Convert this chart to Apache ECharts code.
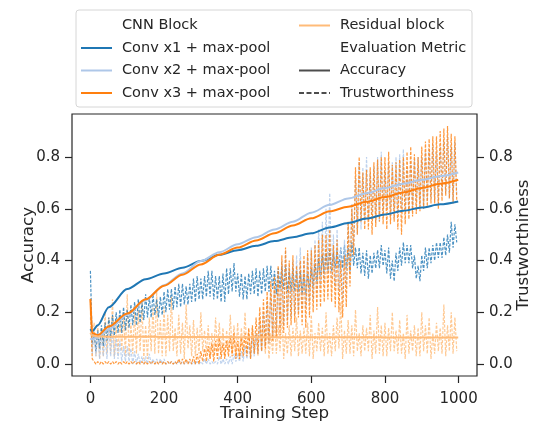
<!DOCTYPE html>
<html>
<head>
<meta charset="utf-8">
<script src="https://cdn.jsdelivr.net/npm/echarts@6.0.0/dist/echarts.min.js"></script>
<style>
  html, body { margin: 0; padding: 0; background: #fff; }
  #chart { width: 534px; height: 426px; }
</style>
</head>
<body>
<div id="chart"></div>
<script>
// accuracy curves (smooth), sampled at these steps
const accSteps = [0, 5, 20, 50, 100, 150, 200, 250, 300, 350, 400, 450, 500, 550, 600, 650, 700, 750, 800, 850, 900, 950, 999]
const conv1Acc = [0.135, 0.127, 0.15, 0.22, 0.29, 0.328, 0.35, 0.372, 0.398, 0.422, 0.44, 0.457, 0.475, 0.49, 0.505, 0.528, 0.545, 0.562, 0.578, 0.592, 0.605, 0.617, 0.628]
const conv2Acc = [0.10, 0.095, 0.105, 0.135, 0.19, 0.248, 0.305, 0.35, 0.398, 0.432, 0.463, 0.49, 0.52, 0.55, 0.585, 0.615, 0.64, 0.66, 0.68, 0.697, 0.712, 0.726, 0.74]
const conv3Acc = [0.252, 0.12, 0.112, 0.145, 0.195, 0.25, 0.303, 0.345, 0.385, 0.422, 0.45, 0.477, 0.505, 0.535, 0.563, 0.59, 0.608, 0.627, 0.645, 0.663, 0.68, 0.697, 0.712]
const residualAcc = [0.12, 0.11, 0.107, 0.106, 0.106, 0.106, 0.105, 0.105, 0.105, 0.105, 0.104, 0.104, 0.104, 0.104, 0.104, 0.104, 0.104, 0.104, 0.103, 0.103, 0.103, 0.103, 0.103]

// trustworthiness (noisy), one value every 5 steps from 0 to 995
const conv1Trust = [
  0.36, 0.08, 0.12, 0.05, 0.13, 0.06, 0.15, 0.07, 0.16, 0.09,
  0.18, 0.1, 0.19, 0.11, 0.2, 0.12, 0.21, 0.12, 0.22, 0.13,
  0.21, 0.14, 0.23, 0.15, 0.24, 0.15, 0.25, 0.16, 0.24, 0.17,
  0.27, 0.18, 0.26, 0.18, 0.27, 0.19, 0.25, 0.18, 0.26, 0.19,
  0.28, 0.2, 0.29, 0.21, 0.29, 0.21, 0.3, 0.22, 0.31, 0.22,
  0.31, 0.23, 0.3, 0.23, 0.31, 0.24, 0.33, 0.24, 0.34, 0.25,
  0.33, 0.25, 0.34, 0.26, 0.36, 0.26, 0.36, 0.25, 0.34, 0.25,
  0.34, 0.24, 0.35, 0.24, 0.37, 0.27, 0.37, 0.28, 0.39, 0.28,
  0.35, 0.26, 0.35, 0.25, 0.34, 0.25, 0.35, 0.27, 0.36, 0.27,
  0.37, 0.26, 0.36, 0.27, 0.37, 0.28, 0.38, 0.28, 0.38, 0.29,
  0.36, 0.27, 0.37, 0.29, 0.38, 0.29, 0.38, 0.28, 0.36, 0.28,
  0.37, 0.28, 0.36, 0.28, 0.36, 0.27, 0.35, 0.27, 0.35, 0.29,
  0.37, 0.3, 0.39, 0.32, 0.41, 0.34, 0.42, 0.35, 0.43, 0.36,
  0.44, 0.36, 0.43, 0.37, 0.44, 0.37, 0.45, 0.37, 0.46, 0.37,
  0.45, 0.36, 0.47, 0.38, 0.45, 0.37, 0.45, 0.35, 0.43, 0.34,
  0.44, 0.33, 0.42, 0.35, 0.43, 0.37, 0.44, 0.37, 0.46, 0.38,
  0.44, 0.35, 0.45, 0.33, 0.4, 0.32, 0.43, 0.36, 0.45, 0.38,
  0.47, 0.39, 0.46, 0.39, 0.46, 0.37, 0.42, 0.33, 0.38, 0.32,
  0.42, 0.36, 0.45, 0.37, 0.45, 0.39, 0.46, 0.4, 0.47, 0.41,
  0.47, 0.41, 0.49, 0.42, 0.5, 0.43, 0.55, 0.45, 0.54, 0.47
]
const conv2Trust = [
  0.18, 0.04, 0.14, 0.03, 0.12, 0.02, 0.11, 0.03, 0.1, 0.02,
  0.15, 0.03, 0.13, 0.02, 0.1, 0.02, 0.09, 0.01, 0.07, 0.01,
  0.07, 0.01, 0.06, 0.0, 0.05, 0.0, 0.04, 0.0, 0.03, 0.0,
  0.03, 0.0, 0.04, 0.0, 0.02, 0.0, 0.02, 0.0, 0.02, 0.0,
  0.02, 0.0, 0.01, 0.0, 0.01, 0.0, 0.01, 0.0, 0.01, 0.0,
  0.01, 0.0, 0.01, 0.0, 0.01, 0.0, 0.01, 0.0, 0.01, 0.0,
  0.01, 0.0, 0.02, 0.0, 0.02, 0.0, 0.01, 0.0, 0.01, 0.0,
  0.03, 0.0, 0.02, 0.0, 0.02, 0.0, 0.03, 0.0, 0.04, 0.01,
  0.04, 0.01, 0.05, 0.01, 0.07, 0.02, 0.08, 0.02, 0.1, 0.03,
  0.12, 0.04, 0.16, 0.05, 0.2, 0.07, 0.24, 0.08, 0.28, 0.1,
  0.3, 0.12, 0.35, 0.14, 0.4, 0.15, 0.44, 0.17, 0.38, 0.18,
  0.4, 0.19, 0.42, 0.2, 0.45, 0.21, 0.4, 0.22, 0.42, 0.24,
  0.45, 0.25, 0.48, 0.28, 0.52, 0.3, 0.55, 0.32, 0.6, 0.35,
  0.66, 0.33, 0.5, 0.3, 0.52, 0.28, 0.45, 0.25, 0.48, 0.3,
  0.55, 0.35, 0.62, 0.45, 0.72, 0.5, 0.78, 0.52, 0.76, 0.55,
  0.8, 0.56, 0.74, 0.58, 0.76, 0.55, 0.8, 0.55, 0.82, 0.58,
  0.75, 0.6, 0.78, 0.57, 0.78, 0.56, 0.8, 0.58, 0.81, 0.6,
  0.83, 0.6, 0.76, 0.58, 0.78, 0.6, 0.79, 0.62, 0.8, 0.61,
  0.8, 0.6, 0.82, 0.63, 0.83, 0.64, 0.85, 0.63, 0.82, 0.62,
  0.84, 0.65, 0.86, 0.66, 0.88, 0.64, 0.84, 0.63, 0.86, 0.65
]
const conv3Trust = [
  0.25, 0.02, 0.01, 0.0, 0.01, 0.0, 0.01, 0.0, 0.01, 0.0,
  0.01, 0.0, 0.01, 0.0, 0.01, 0.0, 0.01, 0.0, 0.01, 0.0,
  0.01, 0.0, 0.01, 0.0, 0.01, 0.0, 0.01, 0.0, 0.01, 0.0,
  0.01, 0.0, 0.01, 0.0, 0.01, 0.0, 0.01, 0.0, 0.01, 0.0,
  0.01, 0.0, 0.01, 0.0, 0.01, 0.0, 0.01, 0.0, 0.02, 0.0,
  0.02, 0.0, 0.02, 0.0, 0.02, 0.0, 0.03, 0.0, 0.04, 0.0,
  0.05, 0.01, 0.06, 0.01, 0.07, 0.02, 0.08, 0.01, 0.09, 0.02,
  0.1, 0.02, 0.08, 0.02, 0.09, 0.03, 0.11, 0.03, 0.12, 0.02,
  0.09, 0.02, 0.1, 0.03, 0.12, 0.03, 0.14, 0.02, 0.15, 0.04,
  0.18, 0.04, 0.22, 0.05, 0.25, 0.06, 0.28, 0.08, 0.32, 0.09,
  0.34, 0.1, 0.38, 0.11, 0.42, 0.12, 0.45, 0.14, 0.4, 0.15,
  0.42, 0.16, 0.38, 0.18, 0.4, 0.15, 0.42, 0.14, 0.44, 0.18,
  0.44, 0.2, 0.46, 0.21, 0.48, 0.22, 0.5, 0.24, 0.5, 0.25,
  0.52, 0.24, 0.46, 0.22, 0.48, 0.2, 0.4, 0.18, 0.42, 0.22,
  0.55, 0.3, 0.6, 0.42, 0.76, 0.5, 0.8, 0.55, 0.74, 0.52,
  0.75, 0.52, 0.76, 0.5, 0.78, 0.53, 0.79, 0.55, 0.8, 0.54,
  0.8, 0.52, 0.82, 0.54, 0.77, 0.55, 0.78, 0.52, 0.79, 0.5,
  0.8, 0.54, 0.82, 0.56, 0.84, 0.57, 0.81, 0.58, 0.8, 0.59,
  0.84, 0.6, 0.86, 0.61, 0.87, 0.62, 0.88, 0.62, 0.88, 0.6,
  0.9, 0.63, 0.91, 0.65, 0.92, 0.64, 0.89, 0.62, 0.88, 0.63
]
const residualTrust = [
  0.2, 0.05, 0.16, 0.03, 0.15, 0.02, 0.14, 0.03, 0.2, 0.04,
  0.18, 0.04, 0.25, 0.03, 0.15, 0.04, 0.18, 0.05, 0.2, 0.03,
  0.27, 0.03, 0.16, 0.04, 0.2, 0.04, 0.21, 0.05, 0.24, 0.02,
  0.15, 0.02, 0.18, 0.05, 0.22, 0.04, 0.28, 0.04, 0.17, 0.03,
  0.22, 0.03, 0.19, 0.05, 0.26, 0.05, 0.14, 0.03, 0.19, 0.04,
  0.16, 0.02, 0.23, 0.06, 0.15, 0.03, 0.17, 0.03, 0.14, 0.04,
  0.2, 0.05, 0.13, 0.04, 0.15, 0.02, 0.12, 0.04, 0.18, 0.05,
  0.16, 0.04, 0.14, 0.03, 0.13, 0.05, 0.19, 0.04, 0.15, 0.03,
  0.16, 0.02, 0.14, 0.05, 0.2, 0.04, 0.13, 0.03, 0.14, 0.04,
  0.12, 0.03, 0.18, 0.05, 0.15, 0.04, 0.15, 0.02, 0.12, 0.04,
  0.17, 0.04, 0.15, 0.05, 0.2, 0.02, 0.12, 0.04, 0.15, 0.03,
  0.14, 0.05, 0.18, 0.03, 0.13, 0.04, 0.14, 0.04, 0.16, 0.03,
  0.19, 0.02, 0.12, 0.05, 0.16, 0.05, 0.14, 0.03, 0.2, 0.04,
  0.12, 0.03, 0.15, 0.05, 0.18, 0.06, 0.24, 0.02, 0.13, 0.04,
  0.17, 0.04, 0.15, 0.03, 0.21, 0.05, 0.12, 0.03, 0.15, 0.05,
  0.14, 0.05, 0.19, 0.02, 0.13, 0.04, 0.22, 0.04, 0.15, 0.03,
  0.16, 0.03, 0.14, 0.05, 0.2, 0.05, 0.13, 0.04, 0.17, 0.04,
  0.12, 0.02, 0.19, 0.04, 0.13, 0.05, 0.15, 0.03, 0.14, 0.03,
  0.2, 0.05, 0.15, 0.04, 0.18, 0.02, 0.12, 0.04, 0.16, 0.05,
  0.14, 0.04, 0.23, 0.03, 0.15, 0.05, 0.2, 0.04, 0.18, 0.05
]
const trustSteps = conv1Trust.map((_, i) => i * 5)

const blockNames = ['Conv x1 + max-pool', 'Conv x2 + max-pool', 'Conv x3 + max-pool', 'Residual block']
const blockColors = ['#1f77b4', '#aec7e8', '#ff7f0e', '#ffbb78']
const accData = [conv1Acc, conv2Acc, conv3Acc, residualAcc]
const trustData = [conv1Trust, conv2Trust, conv3Trust, residualTrust]
const tickValues = [0, 0.2, 0.4, 0.6, 0.8]
const stepTicks = [0, 200, 400, 600, 800, 1000]

const textColor = '#262626'
const font = 'DejaVu Sans'

const chart = echarts.init(document.getElementById('chart'))

const pairs = (xs, ys) => ys.map((v, i) => [xs[i], v])

const series = []
// trustworthiness first so the accuracy curves sit on top
;[3, 0, 1, 2].forEach(i => {
  series.push({
    name: blockNames[i] + ' trust',
    type: 'line',
    yAxisIndex: 1,
    data: pairs(trustSteps, trustData[i]),
    symbol: 'none',
    lineStyle: { color: blockColors[i], width: 1.2, type: [3, 1.5], opacity: 0.8 },
    z: 2
  })
})
blockNames.forEach((name, i) => {
  series.push({
    name: name,
    type: 'line',
    yAxisIndex: 0,
    data: pairs(accSteps, accData[i]),
    symbol: 'none',
    smooth: 0.3,
    smoothMonotone: 'x',
    color: blockColors[i],
    lineStyle: { color: blockColors[i], width: 2 },
    z: 3
  })
})
// legend-only entries
series.push(
  { name: 'CNN Block', type: 'line', data: [], symbol: 'none' },
  { name: 'Evaluation Metric', type: 'line', data: [], symbol: 'none' },
  { name: 'Accuracy', type: 'line', data: [], symbol: 'none', color: '#4d4d4d', lineStyle: { color: '#4d4d4d', width: 2 } },
  { name: 'Trustworthiness', type: 'line', data: [], symbol: 'none', color: '#4d4d4d', lineStyle: { color: '#4d4d4d', width: 1.6, type: [5, 2.5] } }
)

const hidden = name => ({ name: name, itemStyle: { opacity: 0 }, lineStyle: { opacity: 0 } })

const legendBase = {
  orient: 'vertical',
  top: 18,
  padding: 0,
  itemWidth: 31,
  itemHeight: 14,
  itemGap: 7.5,
  selectedMode: false,
  itemStyle: { opacity: 0 },
  textStyle: { color: textColor, fontFamily: font, fontSize: 14.5, padding: [0, 0, 0, 5] }
}

const yAxisBase = {
  type: 'value',
  min: -0.046,
  max: 0.966,
  nameLocation: 'middle',
  nameRotate: 90,
  nameMoveOverlap: false,
  nameTextStyle: { color: textColor, fontFamily: font, fontSize: 16.7 },
  splitLine: { show: false },
  axisLine: { show: false, onZero: false },
  axisTick: { show: true, inside: false, length: 7, lineStyle: { color: textColor, width: 1.2 }, customValues: tickValues },
  axisLabel: { color: textColor, fontFamily: font, fontSize: 15, margin: 12, customValues: tickValues, formatter: v => v.toFixed(1) }
}

const option = {
  animation: false,
  backgroundColor: '#fff',
  grid: {
    left: 72, right: 57, top: 114, bottom: 50,
    containLabel: false, outerBoundsMode: 'none',
    show: true, borderColor: textColor, borderWidth: 1.2, backgroundColor: 'transparent'
  },
  graphic: [{
    type: 'rect',
    shape: { x: 76, y: 10, width: 396, height: 97, r: 3 },
    style: { fill: '#fff', stroke: '#d6d6d6', lineWidth: 1 },
    z: -1
  }],
  legend: [
    Object.assign({}, legendBase, {
      left: 80,
      data: [hidden('CNN Block'), blockNames[0], blockNames[1], blockNames[2]]
    }),
    Object.assign({}, legendBase, {
      left: 298,
      data: [blockNames[3], hidden('Evaluation Metric'), 'Accuracy', 'Trustworthiness']
    })
  ],
  xAxis: {
    type: 'value',
    min: -50,
    max: 1050,
    name: 'Training Step',
    nameLocation: 'middle',
    nameGap: 29,
    nameMoveOverlap: false,
    nameTextStyle: { color: textColor, fontFamily: font, fontSize: 16.7 },
    splitLine: { show: false },
    axisLine: { show: false, onZero: false },
    axisTick: { show: true, inside: false, length: 7, lineStyle: { color: textColor, width: 1.2 }, customValues: stepTicks },
    axisLabel: { color: textColor, fontFamily: font, fontSize: 15, margin: 16, customValues: stepTicks, formatter: v => String(v) }
  },
  yAxis: [
    Object.assign({}, yAxisBase, { name: 'Accuracy', position: 'left', nameGap: 35 }),
    Object.assign({}, yAxisBase, { name: 'Trustworthiness', position: 'right', nameGap: 38 })
  ],
  series: series
}

chart.setOption(option)
</script>
</body>
</html>
